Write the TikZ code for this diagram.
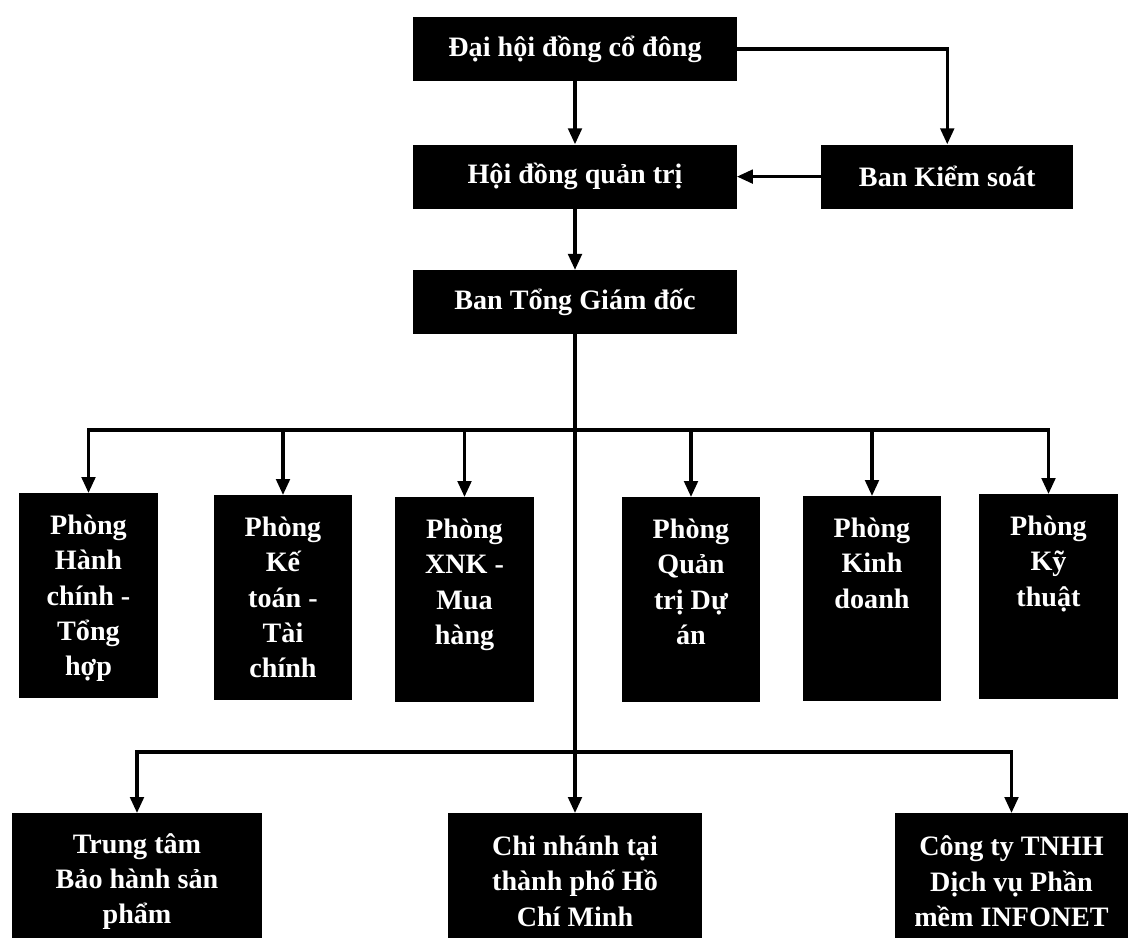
\documentclass[tikz,border=0pt]{standalone}
\usepackage{fontspec}
\setmainfont{Liberation Serif}
\usepackage{xcolor}
\usepackage{tikz}
\usetikzlibrary{positioning,arrows.meta}

\newcommand{\toplines}[1]{\parbox[t][4.025cm][t]{3.2cm}{\centering #1}}

\begin{document}
\begin{tikzpicture}[
        x=0.025cm, y=-0.025cm,
        box/.style={
            fill=black,
            text=white,
            align=center,
            inner sep=0pt,
            font=\bfseries\fontsize{20}{25}\selectfont
        },
        board/.style={
            box,
            minimum width=8.08cm,
            minimum height=1.6cm
        },
        dept/.style={
            box,
            anchor=north,
            inner xsep=0.125cm,
            inner ysep=0.55cm
        },
        unit/.style={
            box,
            anchor=north,
            minimum height=3.4cm
        },
        link/.style={-{Triangle[length=4mm,width=3.4mm]}, line width=2.3pt}
    ]
        \fill[white] (0,0) rectangle (1135,938);
        \useasboundingbox (0,0) rectangle (1135,938);
        \clip (0,0) rectangle (1135,938);

        \node[board] (dhcd) at (575,49) {Đại hội đồng cổ đông};
        \node[board, below=1.575cm of dhcd] (hdqt) {Hội đồng quản trị};
        \node[board, below=1.525cm of hdqt] (btgd) {Ban Tổng Giám đốc};
        \node[board, minimum width=6.3cm, right=2.1cm of hdqt] (bks) {Ban Kiểm soát};

        \node[dept] (hc) at (88.5,493) {\toplines{Phòng\\Hành\\chính -\\Tổng\\hợp}};
        \node[dept] (ketoan) at (283,495) {\toplines{Phòng\\Kế\\toán -\\Tài\\chính}};
        \node[dept] (xnk) at (464.5,497) {\toplines{Phòng\\XNK -\\Mua\\hàng}};
        \node[dept] (qtda) at (691,497) {\toplines{Phòng\\Quản\\trị Dự\\án}};
        \node[dept] (kd) at (872,496) {\toplines{Phòng\\Kinh\\doanh}};
        \node[dept] (kythuat) at (1048.5,494) {\toplines{Phòng\\Kỹ\\thuật}};

        \node[unit, minimum width=6.25cm] (ttbh) at (137,813) {Trung tâm\\Bảo hành sản\\phẩm};
        \node[unit, minimum width=6.33cm] (cn) at (575,813) {Chi nhánh tại\\thành phố Hồ\\Chí Minh};
        \node[unit, minimum width=5.83cm] (infonet) at (1011.5,813) {Công ty TNHH\\Dịch vụ Phần\\mềm INFONET};

        \coordinate (bus1) at (btgd.south |- 0,430);
        \coordinate (bus2) at (btgd.south |- 0,752);

        \draw[link] (dhcd.south) -- (hdqt.north);
        \draw[link] (hdqt.south) -- (btgd.north);
        \draw[link] (dhcd.east) -| (bks.north);
        \draw[link] (bks.west) -- (hdqt.east);
        \draw[link] (btgd.south) -- (cn.north);

        \draw[link] (bus1) -| (hc.north);
        \draw[link] (bus1) -| (ketoan.north);
        \draw[link] (bus1) -| (xnk.north);
        \draw[link] (bus1) -| (qtda.north);
        \draw[link] (bus1) -| (kd.north);
        \draw[link] (bus1) -| (kythuat.north);

        \draw[link] (bus2) -| (ttbh.north);
        \draw[link] (bus2) -| (infonet.north);
    \end{tikzpicture}
\end{document}
